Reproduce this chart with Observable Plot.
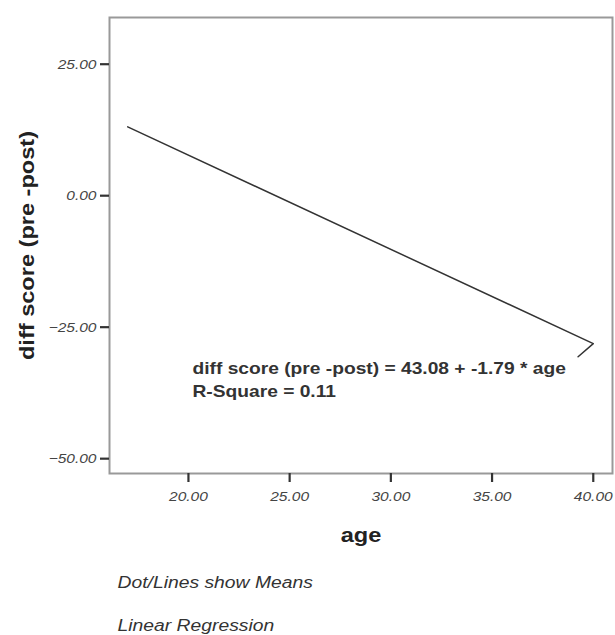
<!DOCTYPE html>
<html>
<head>
<meta charset="utf-8">
<script src="https://cdn.jsdelivr.net/npm/d3@7"></script>
<script src="https://cdn.jsdelivr.net/npm/@observablehq/plot@0.6"></script>
<style>
  html, body { margin: 0; padding: 0; background: #fff; }
  #chart svg { display: block; }
</style>
</head>
<body>
<div id="chart"></div>
<script>
// ---- data ----
const ageTicks = [20, 25, 30, 35, 40];
const scoreTicks = [25, 0, -25, -50];
const lineAge = [17.0, 40.0, 39.25];
const lineScore = [12.7, -28.5, -31.0];
const equationLines = ["diff score (pre -post) = 43.08 + -1.79 * age", "R-Square = 0.11"];
const xLabel = "age";
const yLabel = "diff score (pre -post)";
const captionLines = ["Dot/Lines show Means", "Linear Regression"];

const lineData = lineAge.map((a, i) => ({age: a, score: lineScore[i]}));
const fmt = d3.format(".2f");
const FONT = "'Liberation Sans', Arial, Helvetica, sans-serif";

const chart = Plot.plot({
  width: 615,
  height: 635,
  marginLeft: 109,
  marginRight: 3,
  marginTop: 17,
  marginBottom: 162,
  style: {fontFamily: FONT, background: "#fff"},
  x: {domain: [16.1, 40.95]},
  y: {domain: [-53.2, 33.5]},
  marks: [
    Plot.frame({stroke: "#999", strokeWidth: 2}),
    Plot.axisY({
      ticks: scoreTicks, tickSize: 9, tickPadding: 4, strokeWidth: 2.2, stroke: "#333",
      fill: "#444", fontStyle: "italic", fontSize: 13.5, tickFormat: fmt, label: null, dy: 2
    }),
    Plot.axisX({
      ticks: ageTicks, tickSize: 9, tickPadding: 8.5, strokeWidth: 2.2, stroke: "#333",
      fill: "#444", fontStyle: "italic", fontSize: 13.5, tickFormat: fmt, label: null
    }),
    Plot.line(lineData, {x: "age", y: "score", stroke: "#333", strokeWidth: 1.5}),
    Plot.text([equationLines[0]], {
      frameAnchor: "top-left", textAnchor: "start", lineAnchor: "bottom",
      dx: 83, dy: 356, fontSize: 16.7, fontWeight: "bold", fill: "#333"
    }),
    Plot.text([equationLines[1]], {
      frameAnchor: "top-left", textAnchor: "start", lineAnchor: "bottom",
      dx: 83, dy: 379, fontSize: 16.7, fontWeight: "bold", fill: "#333"
    }),
    Plot.text([xLabel], {
      frameAnchor: "bottom", lineAnchor: "bottom", dy: 68, fontSize: 20.5,
      fontWeight: "bold", fill: "#222"
    }),
    Plot.text([yLabel], {
      frameAnchor: "left", rotate: -90, textAnchor: "middle", lineAnchor: "middle", dx: -82,
      fontSize: 20.5, fontWeight: "bold", fill: "#222", ariaLabel: "ylabel"
    }),
    Plot.text([captionLines[0]], {
      frameAnchor: "bottom-left", textAnchor: "start", lineAnchor: "bottom",
      dx: 8, dy: 114, fontSize: 16.8, fontStyle: "italic", fill: "#333"
    }),
    Plot.text([captionLines[1]], {
      frameAnchor: "bottom-left", textAnchor: "start", lineAnchor: "bottom",
      dx: 8, dy: 157.5, fontSize: 16.8, fontStyle: "italic", fill: "#333"
    })
  ]
});

// the reference's text is slightly wider than Arial: stretch horizontally
d3.select(chart).selectAll("text").each(function () {
  if (this.closest('[aria-label="ylabel"]')) return;
  const t = this.getAttribute("transform") || "";
  this.setAttribute("transform", t + " scale(1.15,1)");
});
// thicker tick marks like the reference
d3.select(chart).selectAll("path, line").each(function () {
  const g = this.closest("g[aria-label]");
  const l = g ? g.getAttribute("aria-label") : "";
  if (l.includes("axis")) {
    this.style.strokeWidth = "2.2px";
    this.style.stroke = "#333";
  }
});

document.getElementById("chart").appendChild(chart);
</script>
</body>
</html>
